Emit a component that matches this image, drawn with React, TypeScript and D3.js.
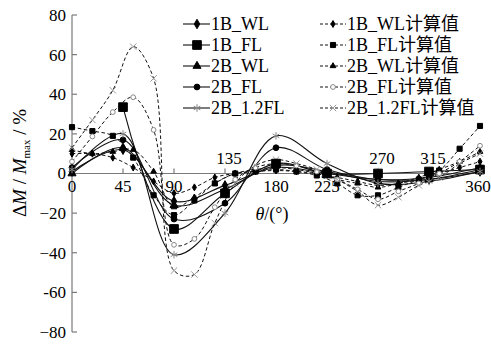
import React, { useEffect, useRef } from "react";
import * as d3 from "d3";

// measured (solid) series, every 45 deg
const measuredAngles = [0, 45, 90, 135, 180, 225, 270, 315, 360];
const wl1B = [1, 12, -14, -6, 3, 0, -3, -3, 1];
const fl1B = [null, 33.5, -28, -10, 5, 0, 0, 1, 2];
const wl2B = [0, 13, -16, -8, 4, 1, -4, -3, 2];
const fl2B = [3, 17, -23, -15, 13, 2, -3, -2, 3];
const fl12_2B = [2, 20, -41, -20, 19, 5, -5, -4, 1];

// computed (dashed) series, every 18 deg
const calcAngles = [0, 18, 36, 54, 72, 90, 108, 126, 144, 162, 180, 198, 216, 234, 252, 270, 288, 306, 324, 342, 360];
const wl1BCalc = [10, 10, 8, 3, -4, -10, -7, -2, 0, 1, 1.5, 1, 0, -2, -4, -6, -5, -3, 0, 3, 6];
const fl1BCalc = [23.4, 21.4, 19, 8, -11, -21, -13.6, -5, 0, 1, 2, 1, -1, -5, -11, -11, -7, -3, 1.5, 12.5, 24];
const wl2BCalc = [12, 10, 11, 12, 1, -17, -12, -5, 0, 2, 3, 2, 0, -3, -5, -7, -5, -2, 2, 6, 11];
const fl2BCalc = [6, 18.7, 31, 38.5, 22, -36, -33, -17, -3, 3, 5, 4, 1, -3, -8, -13, -9, -5, 0, 6, 14];
const fl12_2BCalc = [13, 27, 42, 64, 48, -49, -51, -25, -5, 4, 7, 5, 2, -3, -9, -16, -12, -6, -2, 5, 10];

const xTicks = [0, 45, 90, 135, 180, 225, 270, 315, 360];
const xTicksAbove = [135, 270, 315];
const yTicks = [80, 60, 40, 20, 0, -20, -40, -60, -80];
const yTickLabels = ["80", "60", "40", "20", "0", "\u221220", "\u221240", "-60", "\u221280"];

const measuredNames = ["1B_WL", "1B_FL", "2B_WL", "2B_FL", "2B_1.2FL"];
const calcNames = ["1B_WL计算值", "1B_FL计算值", "2B_WL计算值", "2B_FL计算值", "2B_1.2FL计算值"];

const FONT = "Liberation Serif, DejaVu Serif, Noto Sans CJK SC, serif";

type Mk = { type: d3.SymbolType; size: number; fill: string; stroke: string };

const measuredMarks: Mk[] = [
  { type: d3.symbolDiamond, size: 26, fill: "#000", stroke: "#000" },
  { type: d3.symbolSquare, size: 75, fill: "#000", stroke: "#000" },
  { type: d3.symbolTriangle, size: 28, fill: "#000", stroke: "#000" },
  { type: d3.symbolCircle, size: 26, fill: "#000", stroke: "#000" },
  { type: d3.symbolAsterisk, size: 40, fill: "none", stroke: "#888" },
];
const calcMarks: Mk[] = [
  { type: d3.symbolDiamond, size: 14, fill: "#000", stroke: "#000" },
  { type: d3.symbolSquare, size: 26, fill: "#000", stroke: "#000" },
  { type: d3.symbolTriangle, size: 14, fill: "#000", stroke: "#000" },
  { type: d3.symbolCircle, size: 18, fill: "#fff", stroke: "#888" },
  { type: d3.symbolX, size: 28, fill: "none", stroke: "#999" },
];

const App: React.FC = () => {
  const svgRef = useRef<SVGSVGElement>(null);

  useEffect(() => {
    if (!svgRef.current) return;
    const svg = d3.select(svgRef.current);
    svg.selectAll("*").remove();

    const x = d3.scaleLinear().domain([0, 360]).range([72, 480]);
    const y = d3.scaleLinear().domain([-80, 80]).range([332, 15]);

    const axisColor = "#7a7a7a";

    // y axis
    svg.append("line").attr("x1", x(0)).attr("x2", x(0)).attr("y1", y(80)).attr("y2", y(-80))
      .attr("stroke", axisColor).attr("stroke-width", 1.2);
    yTicks.forEach((t, i) => {
      svg.append("line").attr("x1", x(0)).attr("x2", x(0) + 5).attr("y1", y(t)).attr("y2", y(t))
        .attr("stroke", axisColor).attr("stroke-width", 1.2);
      svg.append("text").attr("x", 66).attr("y", y(t)).attr("dy", "0.35em")
        .attr("text-anchor", "end").attr("font-family", FONT).attr("font-size", 17).text(yTickLabels[i]);
    });

    // x axis
    svg.append("line").attr("x1", x(0)).attr("x2", x(360)).attr("y1", y(0)).attr("y2", y(0))
      .attr("stroke", axisColor).attr("stroke-width", 1.2);
    xTicks.forEach((t) => {
      svg.append("line").attr("x1", x(t)).attr("x2", x(t)).attr("y1", y(0)).attr("y2", y(0) - 5)
        .attr("stroke", axisColor).attr("stroke-width", 1.2);
      const above = xTicksAbove.includes(t);
      svg.append("text").attr("x", t === 360 ? x(t) - 2 : x(t) + (above ? 4 : 0))
        .attr("y", above ? y(0) - 10 : y(0) + 18)
        .attr("text-anchor", "middle").attr("font-family", FONT).attr("font-size", 17).text(String(t));
    });

    const line = d3.line<[number, number | null]>()
      .defined((d) => d[1] !== null)
      .x((d) => x(d[0]))
      .y((d) => y(d[1] as number))
      .curve(d3.curveCatmullRom.alpha(0.5));

    const calcSeries = [wl1BCalc, fl1BCalc, wl2BCalc, fl2BCalc, fl12_2BCalc];
    const measuredSeries = [wl1B, fl1B, wl2B, fl2B, fl12_2B];

    const drawMarks = (pts: [number, number | null][], mk: Mk) => {
      svg.append("g").selectAll("path").data(pts.filter((d) => d[1] !== null)).enter().append("path")
        .attr("d", d3.symbol().type(mk.type).size(mk.size)())
        .attr("transform", (d) => `translate(${x(d[0])},${y(d[1] as number)})`)
        .attr("fill", mk.fill).attr("stroke", mk.stroke).attr("stroke-width", 1);
    };

    calcSeries.forEach((vals) => {
      const pts = calcAngles.map((a, i) => [a, vals[i]] as [number, number | null]);
      svg.append("path").attr("d", line(pts)).attr("fill", "none").attr("stroke", "#111")
        .attr("stroke-width", 1).attr("stroke-dasharray", "3.5,2.5");
    });
    measuredSeries.forEach((vals) => {
      const pts = measuredAngles.map((a, i) => [a, vals[i]] as [number, number | null]);
      svg.append("path").attr("d", line(pts)).attr("fill", "none").attr("stroke", "#111")
        .attr("stroke-width", 1.1);
    });
    calcSeries.forEach((vals, k) => {
      drawMarks(calcAngles.map((a, i) => [a, vals[i]] as [number, number | null]), calcMarks[k]);
    });
    measuredSeries.forEach((vals, k) => {
      drawMarks(measuredAngles.map((a, i) => [a, vals[i]] as [number, number | null]), measuredMarks[k]);
    });

    // legend
    const rowY = [24, 45, 66, 87, 108];
    measuredNames.forEach((name, i) => {
      const g = svg.append("g").attr("transform", `translate(0,${rowY[i]})`);
      g.append("line").attr("x1", 183).attr("x2", 210).attr("y1", 0).attr("y2", 0)
        .attr("stroke", "#111").attr("stroke-width", 1.1);
      const mk = measuredMarks[i];
      g.append("path").attr("d", d3.symbol().type(mk.type).size(mk.size)())
        .attr("transform", "translate(197,0)").attr("fill", mk.fill).attr("stroke", mk.stroke);
      g.append("text").attr("x", 211).attr("y", 0).attr("dy", "0.35em")
        .attr("font-family", FONT).attr("font-size", 18).text(name);
    });
    calcNames.forEach((name, i) => {
      const g = svg.append("g").attr("transform", `translate(0,${rowY[i]})`);
      g.append("line").attr("x1", 320).attr("x2", 346).attr("y1", 0).attr("y2", 0)
        .attr("stroke", "#111").attr("stroke-width", 1).attr("stroke-dasharray", "3,2");
      const mk = calcMarks[i];
      g.append("path").attr("d", d3.symbol().type(mk.type).size(mk.size)())
        .attr("transform", "translate(333,0)").attr("fill", mk.fill).attr("stroke", mk.stroke);
      g.append("text").attr("x", 347).attr("y", 0).attr("dy", "0.35em")
        .attr("font-family", FONT).attr("font-size", 18).text(name);
    });

    // axis titles
    const yt = svg.append("text").attr("transform", "translate(26,163) rotate(-90)")
      .attr("text-anchor", "middle").attr("font-family", FONT).attr("font-size", 19);
    yt.append("tspan").text("\u0394");
    yt.append("tspan").attr("font-style", "italic").text("M");
    yt.append("tspan").text(" / ");
    yt.append("tspan").attr("font-style", "italic").text("M");
    yt.append("tspan").attr("font-size", 11).attr("dy", 4).text("max");
    yt.append("tspan").attr("dy", -4).text(" / %");

    const xt = svg.append("text").attr("x", 272).attr("y", 220)
      .attr("text-anchor", "middle").attr("font-family", FONT).attr("font-size", 18);
    xt.append("tspan").attr("font-style", "italic").text("\u03b8");
    xt.append("tspan").text("/(\u00b0)");
  }, []);

  return (
    <svg
      ref={svgRef}
      width={491}
      height={345}
      style={{ position: "absolute", left: 0, top: 0, background: "#fff" }}
    />
  );
};

export default App;
